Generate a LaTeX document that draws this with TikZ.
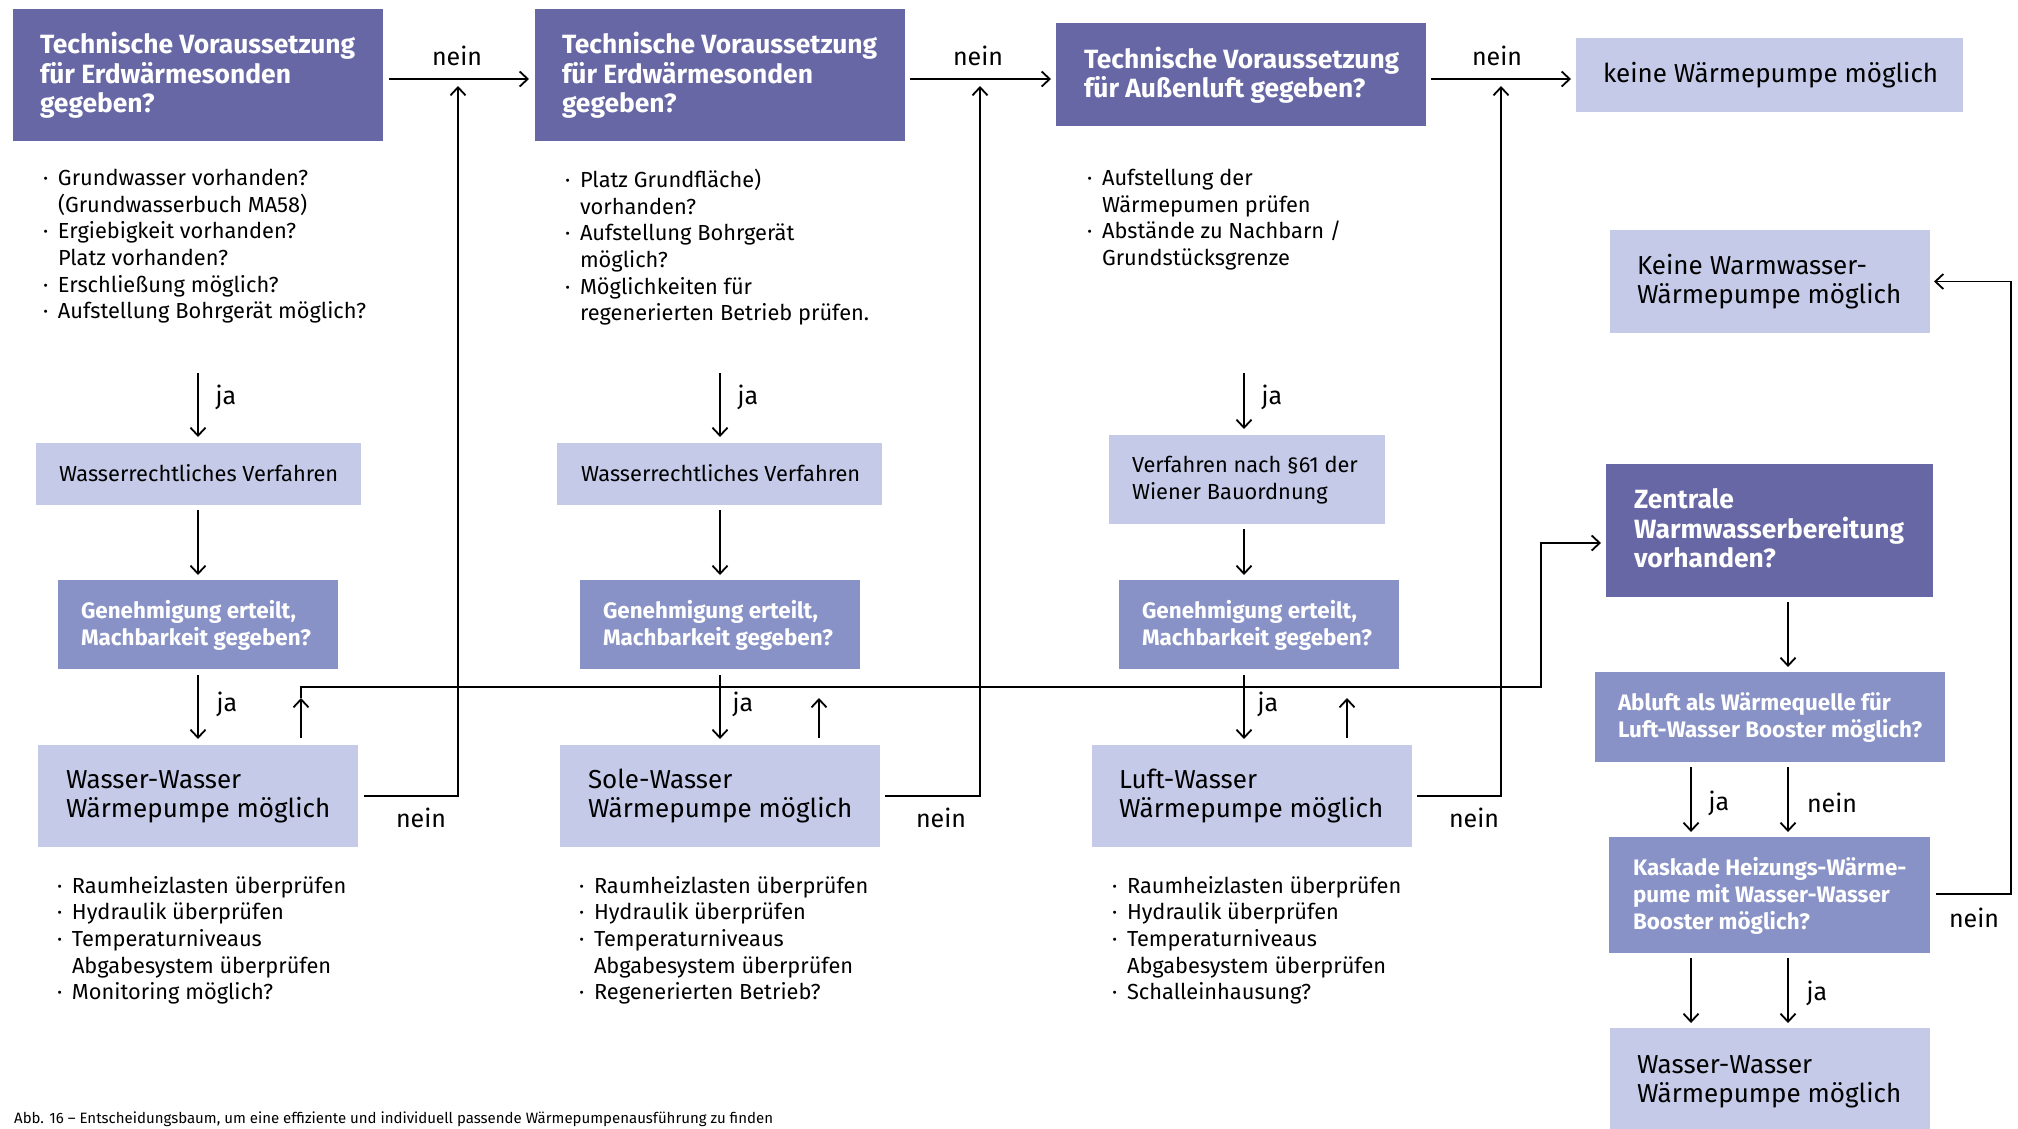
\documentclass[tikz,border=0pt]{standalone}
\usepackage{fontspec}
\setmainfont{Fira Sans}
\usetikzlibrary{arrows.meta}
\definecolor{qdark}{RGB}{102,103,164}
\definecolor{qmid}{RGB}{136,146,198}
\definecolor{qlight}{RGB}{196,202,231}
\newcommand\fbody{\fontsize{21.8}{26.7}\selectfont}
\newcommand\fbig{\fontsize{26}{29}\selectfont}
\newcommand\ftitle{\fontsize{26.4}{29.5}\selectfont\bfseries}
\newcommand\fmid{\fontsize{22.4}{27}\selectfont\bfseries}
\newcommand\flab{\fontsize{25}{28}\selectfont}
\newcommand\itm{\makebox[15pt][l]{·}}
\newcommand\cnt{\hspace*{15pt}}
\newcommand\bx[6]{\node[#1,minimum width={#5-#3},minimum height={#6-#4}] (#2) at ({(#3+#5)/2},{(#4+#6)/2}) {};}
\tikzset{
  dark/.style={fill=qdark,draw=none,inner sep=0pt,outer sep=0pt},
  mid/.style={fill=qmid,draw=none,inner sep=0pt,outer sep=0pt},
  light/.style={fill=qlight,draw=none,inner sep=0pt,outer sep=0pt},
  txt/.style={inner sep=0pt,outer sep=0pt,align=left,anchor=west,execute at begin node=\strut,execute at end node=\strut},
  ttl/.style={txt,text=white,font=\ftitle},
  mtl/.style={txt,text=white,font=\fmid},
  btx/.style={txt,font=\fbig},
  stx/.style={txt,font=\fbody},
  lst/.style={inner sep=0pt,outer sep=0pt,align=left,anchor=north west,font=\fbody,execute at begin node=\strut,execute at end node=\strut},
  lab/.style={inner sep=0pt,font=\flab},
  ln/.style={line width=1.8pt,draw=black},
  arr/.style={ln,-{Straight Barb[length=8pt,width=15pt,line width=1.8pt]}},
}
\begin{document}
\begin{tikzpicture}[x=1pt,y=-1pt]
\useasboundingbox (0,0) rectangle (2018,1128);
\clip (0,0) rectangle (2018,1128);
\fill[white] (0,0) rectangle (2018,1128);
% boxes
\bx{dark}{q1}{13}{9}{383}{141}
\bx{dark}{q2}{535}{9}{905}{141}
\bx{dark}{q3}{1056}{23}{1426}{126}
\bx{light}{keine}{1576}{38}{1963}{112}
\bx{light}{kww}{1610}{230}{1930}{333}
\bx{light}{w1}{36}{443}{361}{505}
\bx{light}{w2}{557}{443}{882}{505}
\bx{light}{v3}{1109}{435}{1385}{524}
\bx{mid}{g1}{58}{580}{338}{669}
\bx{mid}{g2}{580}{580}{860}{669}
\bx{mid}{g3}{1119}{580}{1399}{669}
\bx{light}{ww1}{38}{745}{358}{847}
\bx{light}{sw}{560}{745}{880}{847}
\bx{light}{lw}{1092}{745}{1412}{847}
\bx{dark}{zen}{1606}{464}{1933}{597}
\bx{mid}{abl}{1595}{672}{1945}{762}
\bx{mid}{kas}{1609}{837}{1930}{953}
\bx{light}{ww2}{1610}{1028}{1930}{1134}
% box texts
\node[ttl] (q1t) at (40,77) {Technische Voraussetzung\\für Erdwärmesonden\\gegeben?};
\node[ttl] (q2t) at (562,77) {Technische Voraussetzung\\für Erdwärmesonden\\gegeben?};
\node[ttl] (q3t) at (1084,76.5) {Technische Voraussetzung\\für Außenluft gegeben?};
\node[btx] (keinet) at (1603,77) {keine Wärmepumpe möglich};
\node[btx] (kwwt) at (1637,283.5) {Keine Warmwasser-\\Wärmepumpe möglich};
\node[stx] (w1t) at (59,476) {Wasserrechtliches Verfahren};
\node[stx] (w2t) at (581,476) {Wasserrechtliches Verfahren};
\node[stx] (v3t) at (1132,481.5) {Verfahren nach §61 der\\Wiener Bauordnung};
\node[mtl] (g1t) at (81,626.5) {Genehmigung erteilt,\\Machbarkeit gegeben?};
\node[mtl] (g2t) at (603,626.5) {Genehmigung erteilt,\\Machbarkeit gegeben?};
\node[mtl] (g3t) at (1142,626.5) {Genehmigung erteilt,\\Machbarkeit gegeben?};
\node[btx] (ww1t) at (66,798) {Wasser-Wasser\\Wärmepumpe möglich};
\node[btx] (swt) at (588,798) {Sole-Wasser\\Wärmepumpe möglich};
\node[btx] (lwt) at (1119,798) {Luft-Wasser\\Wärmepumpe möglich};
\node[ttl] (zent) at (1634,532.5) {Zentrale\\Warmwasserbereitung\\vorhanden?};
\node[mtl] (ablt) at (1618,719) {Abluft als Wärmequelle für\\Luft-Wasser Booster möglich?};
\node[mtl] (kast) at (1633,897) {Kaskade Heizungs-Wärme-\\pume mit Wasser-Wasser\\Booster möglich?};
\node[btx] (ww2t) at (1637,1083) {Wasser-Wasser\\Wärmepumpe möglich};
% lists
\node[lst] (l1) at (43,169) {\itm Grundwasser vorhanden?\\\cnt(Grundwasserbuch MA58)\\\itm Ergiebigkeit vorhanden?\\\cnt Platz vorhanden?\\\itm Erschließung möglich?\\\itm Aufstellung Bohrgerät möglich?};
\node[lst] (l2) at (565,169) {\itm Platz Grundfläche)\\\cnt vorhanden?\\\itm Aufstellung Bohrgerät\\\cnt möglich?\\\itm Möglichkeiten für\\\cnt regenerierten Betrieb prüfen.};
\node[lst] (l3) at (1087,169) {\itm Aufstellung der\\\cnt Wärmepumen prüfen\\\itm Abstände zu Nachbarn /\\\cnt Grundstücksgrenze};
\node[lst] (b1) at (57,876) {\itm Raumheizlasten überprüfen\\\itm Hydraulik überprüfen\\\itm Temperaturniveaus\\\cnt Abgabesystem überprüfen\\\itm Monitoring möglich?};
\node[lst] (b2) at (579,876) {\itm Raumheizlasten überprüfen\\\itm Hydraulik überprüfen\\\itm Temperaturniveaus\\\cnt Abgabesystem überprüfen\\\itm Regenerierten Betrieb?};
\node[lst] (b3) at (1112,876) {\itm Raumheizlasten überprüfen\\\itm Hydraulik überprüfen\\\itm Temperaturniveaus\\\cnt Abgabesystem überprüfen\\\itm Schalleinhausung?};
% coordinates
\coordinate (s1) at (198,373);
\coordinate (s2) at (720,373);
\coordinate (s3) at (1244,373);
\coordinate (t1) at (458,79);
\coordinate (t2) at (980,79);
\coordinate (t3) at (1501,79);
\coordinate (u1) at (301,687);
\coordinate (u2) at (819,687);
\coordinate (u3) at (1347,687);
\coordinate (j1) at (1541,687);
\coordinate (j2) at (1541,543);
\coordinate (la) at (1691,0);
\coordinate (ra) at (1788,0);
\coordinate (kr) at (2011,894);
% top nein arrows
\draw[arr,shorten <=6pt,shorten >=6pt] (q1.east |- t1) -- (q2.west |- t1);
\draw[arr,shorten <=5pt,shorten >=5pt] (q2.east |- t2) -- (q3.west |- t2);
\draw[arr,shorten <=5pt,shorten >=5pt] (q3.east |- t3) -- (keine.west |- t3);
\node[lab] (n1) at (457,56) {nein};
\node[lab] (n2) at (978,56) {nein};
\node[lab] (n3) at (1497,56) {nein};
% ja arrows from lists
\draw[arr,shorten >=6pt] (s1) -- (s1 |- w1.north);
\draw[arr,shorten >=6pt] (s2) -- (s2 |- w2.north);
\draw[arr,shorten >=6pt] (s3) -- (s3 |- v3.north);
\node[lab] (ja1) at (226,397) {ja};
\node[lab] (ja2) at (748,397) {ja};
\node[lab] (ja3) at (1272,397) {ja};
% procedure arrows
\draw[arr,shorten <=5pt,shorten >=5pt] (w1.south -| s1) -- (g1.north -| s1);
\draw[arr,shorten <=5pt,shorten >=5pt] (w2.south -| s2) -- (g2.north -| s2);
\draw[arr,shorten <=5pt,shorten >=5pt] (v3.south -| s3) -- (g3.north -| s3);
\draw[arr,shorten <=6pt,shorten >=6pt] (g1.south -| s1) -- (ww1.north -| s1);
\draw[arr,shorten <=6pt,shorten >=6pt] (g2.south -| s2) -- (sw.north -| s2);
\draw[arr,shorten <=6pt,shorten >=6pt] (g3.south -| s3) -- (lw.north -| s3);
\node[lab] (ja4) at (227,704) {ja};
\node[lab] (ja5) at (743,704) {ja};
\node[lab] (ja6) at (1268,704) {ja};
% up arrows
\draw[arr,shorten <=7pt,shorten >=11pt] (ww1.north -| u1) -- (u1);
\draw[arr,shorten <=7pt,shorten >=11pt] (sw.north -| u2) -- (u2);
\draw[arr,shorten <=7pt,shorten >=11pt] (lw.north -| u3) -- (u3);
\draw[arr,shorten >=5pt] ([yshift=-11pt]u1) -- (u1) -- (j1) -- (j2) -- (j2 -| zen.west);
% nein back loops
\draw[arr,shorten <=6pt,shorten >=7pt] (ww1.east) -| (t1);
\draw[arr,shorten <=5pt,shorten >=7pt] (sw.east) -| (t2);
\draw[arr,shorten <=5pt,shorten >=7pt] (lw.east) -| (t3);
\node[lab] (n4) at (421,818) {nein};
\node[lab] (n5) at (941,818) {nein};
\node[lab] (n6) at (1474,818) {nein};
% right column
\draw[arr,shorten <=5pt,shorten >=5pt] (zen.south -| ra) -- (abl.north -| ra);
\draw[arr,shorten <=5pt,shorten >=5pt] (abl.south -| la) -- (kas.north -| la);
\draw[arr,shorten <=5pt,shorten >=5pt] (abl.south -| ra) -- (kas.north -| ra);
\node[lab] (ja7) at (1719,803) {ja};
\node[lab] (n7) at (1832,803) {nein};
\draw[arr,shorten <=5pt,shorten >=5pt] (kas.south -| la) -- (ww2.north -| la);
\draw[arr,shorten <=5pt,shorten >=5pt] (kas.south -| ra) -- (ww2.north -| ra);
\node[lab] (ja8) at (1817,993) {ja};
\draw[arr,shorten <=6pt,shorten >=4pt] (kas.east |- kr) -- (kr) |- (kww.east);
\node[lab] (n8) at (1974,918) {nein};
% caption
\node[anchor=base west,inner sep=0pt,font=\fontsize{15}{18}\selectfont] (cap) at (14,1123) {Abb. 16 – Entscheidungsbaum, um eine effiziente und individuell passende Wärmepumpenausführung zu finden};
\end{tikzpicture}
\end{document}
